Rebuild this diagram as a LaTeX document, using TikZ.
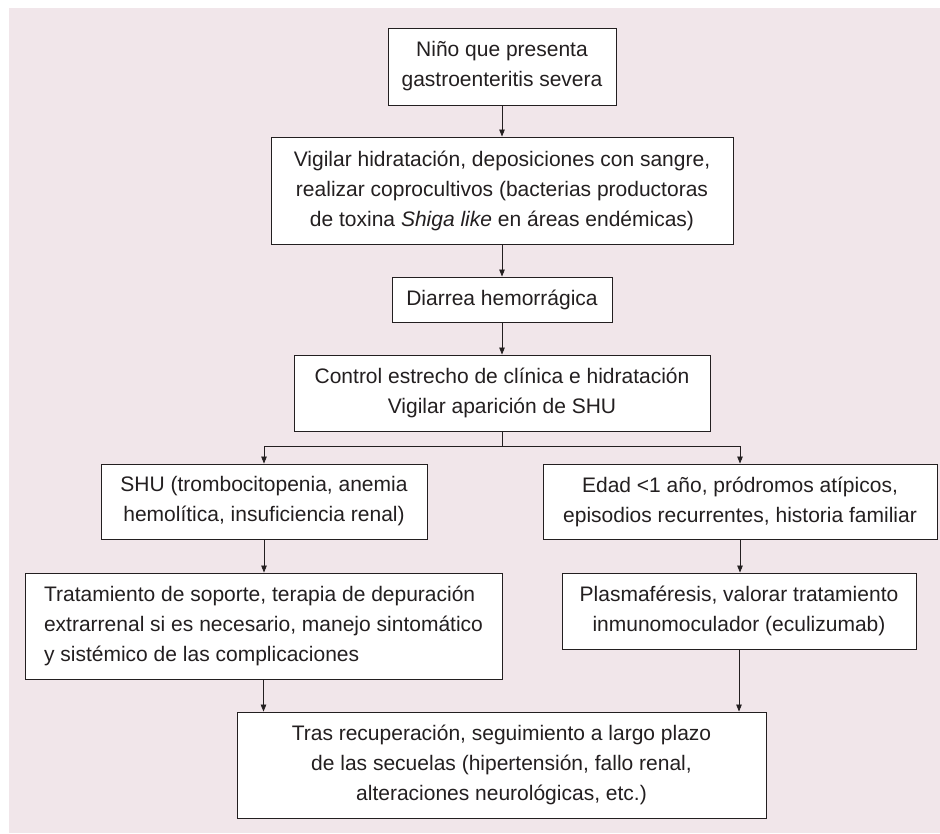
\documentclass[tikz,border=0pt]{standalone}
\usepackage{fontspec}
\setmainfont{Liberation Sans}
\usetikzlibrary{arrows.meta}
\definecolor{bgpink}{RGB}{241,230,234}
\definecolor{ink}{RGB}{35,31,32}
\tikzset{
  box/.style={draw=ink, fill=white, line width=0.9pt, inner sep=0pt, align=center,
    text=ink, font=\fontsize{21pt}{30pt}\selectfont},
  conn/.style={draw=ink, line width=0.8pt},
  arr/.style={conn, -{Triangle[length=7pt,width=5.5pt]}}
}
\begin{document}
\begin{tikzpicture}[x=1pt,y=-1pt]
\useasboundingbox (0,0) rectangle (940,833);
\fill[bgpink] (9,8) rectangle (940,833);

\node[box, minimum width=228pt, minimum height=77pt] (b1) at (502,66.5)
  {Niño que presenta\\gastroenteritis severa};
\node[box, minimum width=462pt, minimum height=107pt] (b2) at (502,190.5)
  {Vigilar hidratación, deposiciones con sangre,\\realizar coprocultivos (bacterias productoras\\de toxina \textit{Shiga like} en áreas endémicas)};
\node[box, minimum width=220pt, minimum height=45pt] (b3) at (502,299.5)
  {Diarrea hemorrágica};
\node[box, minimum width=416pt, minimum height=76pt] (b4) at (502,393)
  {Control estrecho de clínica e hidratación\\Vigilar aparición de SHU};
\node[box, minimum width=326pt, minimum height=75pt] (b5) at (264,501.5)
  {SHU (trombocitopenia, anemia\\hemolítica, insuficiencia renal)};
\node[box, minimum width=394pt, minimum height=75pt] (b6) at (740,501.5)
  {Edad <1 año, pródromos atípicos,\\episodios recurrentes, historia familiar};
\node[box, align=left, minimum width=477pt, minimum height=106pt] (b7) at (263.5,626)
  {Tratamiento de soporte, terapia de depuración\\extrarrenal si es necesario, manejo sintomático\\y sistémico de las complicaciones};
\node[box, minimum width=354pt, minimum height=76pt] (b8) at (739,611)
  {Plasmaféresis, valorar tratamiento\\inmunomoculador (eculizumab)};
\node[box, minimum width=529pt, minimum height=106pt] (b9) at (501.5,765)
  {Tras recuperación, seguimiento a largo plazo\\de las secuelas (hipertensión, fallo renal,\\alteraciones neurológicas, etc.)};

\coordinate (split) at (502,446);

\draw[arr] (b1.south) -- (b2.north);
\draw[arr] (b2.south) -- (b3.north);
\draw[arr] (b3.south) -- (b4.north);
\draw[conn] (b4.south) -- (split);
\draw[arr] (split) -| (b5.north);
\draw[arr] (split) -| (b6.north);
\draw[arr] (b5.south) -- (b5.south |- b7.north);
\draw[arr] (b6.south) -- (b6.south |- b8.north);
\draw[arr] (b7.south) -- (b7.south |- b9.north);
\draw[arr] (b8.south) -- (b8.south |- b9.north);
\end{tikzpicture}
\end{document}
